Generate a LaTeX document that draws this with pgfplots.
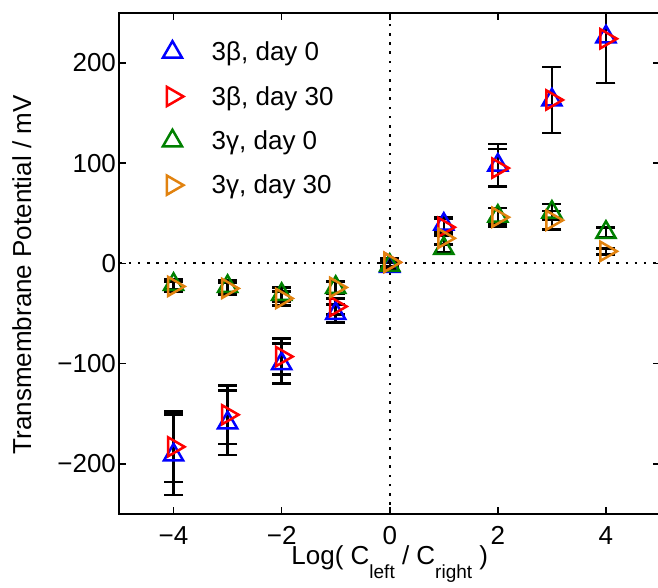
\documentclass[border=0pt]{standalone}
\usepackage{fontspec}
\setmainfont{Liberation Sans}
\usepackage{pgfplots}
\pgfplotsset{compat=1.18}
\definecolor{mblue}{RGB}{0,0,255}
\definecolor{mred}{RGB}{255,0,0}
\definecolor{mgreen}{RGB}{0,128,0}
\definecolor{morange}{RGB}{225,130,15}
\newcommand{\bigfont}{\fontsize{26}{31}\selectfont}
\newcommand{\subfont}{\fontsize{19}{19}\selectfont}

\pgfplotstableread{
x y e
-4 -191 40
-3 -159 32
-2 -100 20
-1 -50 9
0 -3 4
1 39 7
2 98 21
3 163 33
4 226 46
}\bzero
\pgfplotstableread{
x y e
-4 -183 35
-3 -151 29
-2 -93 18
-1 -43 8
0 1 4
1 36 8
2 95 19
3 163 33
4 224 44
}\bthirty
\pgfplotstableread{
x y e
-4 -21 5
-3 -23 6
-2 -31 7
-1 -24 6
0 -2 4
1 15 4
2 47 8
3 51 8
4 31 5
}\gzero
\pgfplotstableread{
x y e
-4 -23 5
-3 -25 6
-2 -35 7
-1 -24 6
0 1 4
1 25 6
2 46 9
3 43 9
4 12 3
}\gthirty

\begin{document}
\begin{tikzpicture}
\begin{axis}[
  name=ax,
  scale only axis, width=540.5pt, height=501.3pt,
  xmin=-5, xmax=5, ymin=-250, ymax=250,
  xtick={-4,-2,0,2,4}, xticklabels={−4,−2,0,2,4},
  ytick={-200,-100,0,100,200}, yticklabels={−200,−100,0,100,200},
  tick align=inside, major tick length=7pt,
  tick style={line width=1.5pt, black},
  axis line style={line width=2pt},
  ticklabel style={font=\bigfont},
  xticklabel style={yshift=-9pt},
  label style={font=\bigfont},
  xlabel={Log( C\raisebox{-14pt}{\subfont left} / C\raisebox{-14pt}{\subfont right} )},
  ylabel={Transmembrane Potential / mV},
  xlabel style={at={(axis description cs:0.5,-0.1017)}, anchor=base},
  ylabel style={at={(axis description cs:-0.1637,0.477)}, anchor=base},
  legend style={draw=none, fill=none, font=\bigfont, inner sep=0pt,
    at={(axis description cs:0.0583,0.946)}, anchor=north west, row sep=20pt},
  legend cell align=left,
  legend image code/.code={\path (0pt,0pt) (56pt,0pt);
    \draw[mark repeat=2,mark phase=2,#1,only marks] plot coordinates {(0pt,0pt)(20pt,0pt)(40pt,0pt)};},
  error bars/y dir=both, error bars/y explicit,
  error bars/error bar style={black, line width=2.5pt},
  error bars/error mark options={black, rotate=90, mark size=9.5pt, line width=2.5pt},
]
\addplot[black, line width=2pt, dash pattern=on 2.5pt off 6.7pt, forget plot, error bars/y dir=none] coordinates {(-5,0) (5,0)};
\addplot[black, line width=2pt, dash pattern=on 2.5pt off 6.7pt, forget plot, error bars/y dir=none] coordinates {(0,-250) (0,250)};

\addplot[only marks, mblue, mark=triangle, mark size=11pt, line width=2.5pt]
  table[x=x, y=y, y error=e] {\bzero};
\addlegendentry{3β, day 0}
\addplot[only marks, mred, mark=triangle, mark size=11pt, line width=2.5pt, mark options={rotate=-90}]
  table[x=x, y=y, y error=e] {\bthirty};
\addlegendentry{3β, day 30}
\addplot[only marks, mgreen, mark=triangle, mark size=11pt, line width=2.5pt]
  table[x=x, y=y, y error=e] {\gzero};
\addlegendentry{3γ, day 0}
\addplot[only marks, morange, mark=triangle, mark size=11pt, line width=2.5pt, mark options={rotate=-90}]
  table[x=x, y=y, y error=e] {\gthirty};
\addlegendentry{3γ, day 30}
\end{axis}
\pgfresetboundingbox
\path ([xshift=-119.5pt,yshift=-74pt]ax.south west) rectangle ([xshift=-2pt,yshift=12.7pt]ax.north east);
\end{tikzpicture}
\end{document}
